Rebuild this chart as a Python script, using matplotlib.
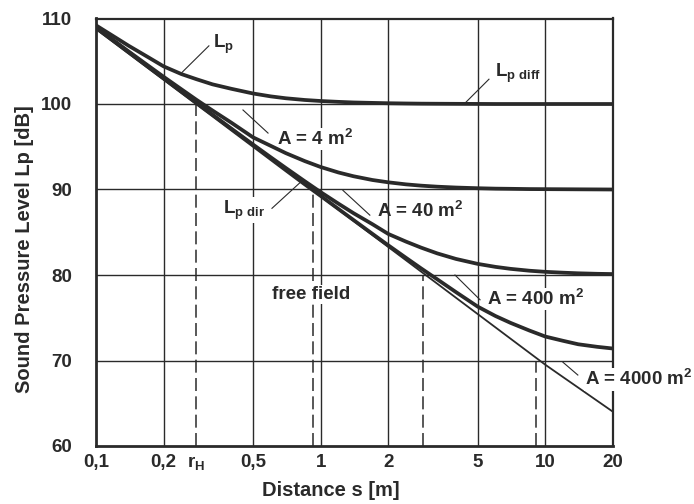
import matplotlib
matplotlib.use("Agg")
import matplotlib.pyplot as plt

# ---- data ----
distance = [0.1, 0.12, 0.14, 0.17, 0.2, 0.24, 0.28, 0.33, 0.4, 0.5, 0.6, 0.7, 0.85,
            1, 1.2, 1.4, 1.7, 2, 2.4, 2.8, 3.3, 4, 5, 6, 7, 8.5, 10, 12, 14, 17, 20]
lp_dir   = [108.9, 107.34, 106.02, 104.36, 102.97, 101.41, 100.09, 98.69, 97.04, 95.13, 93.57,
            92.25, 90.59, 89.2, 87.64, 86.32, 84.66, 83.27, 81.71, 80.39, 78.99, 77.34, 75.43,
            73.87, 72.55, 70.89, 69.5, 68.05, 66.83, 65.29, 64.0]
lp_a4    = [109.2, 107.9, 106.8, 105.5, 104.4, 103.5, 102.9, 102.3, 101.78, 101.23, 100.89,
            100.67, 100.47, 100.35, 100.25, 100.18, 100.13, 100.09, 100.06, 100.04, 100.03,
            100.02, 100.01, 100.0, 100.0, 100.0, 100.0, 100.0, 100.0, 100.0, 100.0]
lp_a40   = [109.0, 107.42, 106.13, 104.52, 103.18, 101.72, 100.49, 99.24, 97.82, 96.1, 95.1,
            94.25, 93.32, 92.63, 91.99, 91.55, 91.11, 90.84, 90.6, 90.45, 90.33, 90.23, 90.15,
            90.1, 90.08, 90.05, 90.04, 90.03, 90.02, 90.01, 90.0]
lp_a400  = [108.9, 107.35, 106.03, 104.37, 102.99, 101.44, 100.13, 98.75, 97.13, 95.26, 93.76,
            92.51, 90.96, 89.69, 88.34, 87.23, 85.94, 84.8, 83.9, 83.2, 82.53, 81.88, 81.3,
            80.95, 80.72, 80.5, 80.37, 80.27, 80.2, 80.14, 80.11]
lp_a4000 = [108.9, 107.34, 106.02, 104.36, 102.97, 101.41, 100.09, 98.69, 97.04, 95.13, 93.57,
            92.25, 90.6, 89.25, 87.72, 86.43, 84.81, 83.47, 82.0, 80.77, 79.5, 78.0, 76.3,
            75.2, 74.4, 73.5, 72.8, 72.3, 71.9, 71.6, 71.4]

# critical distances (dashed) and the levels where they end
crit_r      = [0.28, 0.92, 2.85, 9.1]
crit_levels = [100, 90, 80, 70]

x_ticks = [0.1, 0.2, 0.28, 0.5, 1, 2, 5, 10, 20]
x_tick_labels = ["0,1", "0,2", r"$\mathbf{r}_\mathbf{H}$", "0,5", "1", "2", "5", "10", "20"]
y_ticks = [60, 70, 80, 90, 100, 110]
x_grid = [0.2, 0.5, 1, 2, 5, 10]
y_grid = [70, 80, 90, 100]

# ---- style ----
INK = "#2a2a2a"
plt.rcParams["font.family"] = ["Liberation Sans", "DejaVu Sans"]
plt.rcParams["font.weight"] = "bold"
plt.rcParams["mathtext.fontset"] = "custom"
plt.rcParams["mathtext.rm"] = "Liberation Sans:bold"
plt.rcParams["mathtext.bf"] = "Liberation Sans:bold"
plt.rcParams["mathtext.it"] = "Liberation Sans:bold"

fig = plt.figure(figsize=(6.94, 5.04), dpi=100)
ax = fig.add_axes([96/694, 1-446/504, (613-96)/694, (446-18.5)/504])
ax.set_xscale("log")
ax.set_xlim(0.1, 20)
ax.set_ylim(60, 110)

for g in x_grid:
    ax.axvline(g, color=INK, lw=1.0, zorder=1)
for g in y_grid:
    ax.axhline(g, color=INK, lw=1.0, zorder=1)

ax.vlines(crit_r, 60, crit_levels, colors=INK, lw=1.1,
          linestyles=(0, (8.5, 3.5)), zorder=2)

ax.plot(distance, lp_dir, color=INK, lw=1.3, zorder=4)
for series in (lp_a4, lp_a40, lp_a400, lp_a4000):
    ax.plot(distance, series, color=INK, lw=2.7, zorder=4,
            solid_capstyle="butt", solid_joinstyle="round")

ax.set_xticks(x_ticks)
ax.set_xticklabels(x_tick_labels)
ax.xaxis.set_minor_locator(matplotlib.ticker.NullLocator())
ax.set_yticks(y_ticks)
ax.tick_params(axis="both", length=0, labelsize=13.5, colors=INK)
ax.tick_params(axis="x", pad=6)
ax.tick_params(axis="y", pad=17)

for side in ("left", "bottom"):
    ax.spines[side].set_linewidth(2.0)
for side in ("right", "top"):
    ax.spines[side].set_linewidth(1.6)
for s in ax.spines.values():
    s.set_color(INK)

ax.set_xlabel("Distance s [m]", fontsize=14.5, color=INK, fontweight="bold")
ax.xaxis.set_label_coords(0.4545, -0.083)
ax.xaxis.label.set_va("top")
ax.set_ylabel("Sound Pressure Level Lp [dB]", fontsize=14.5, color=INK, fontweight="bold")
ax.yaxis.set_label_coords(-0.12, 0.46)

box = dict(facecolor="white", edgecolor="none", pad=1.0)
tk = dict(fontsize=13.5, color=INK, fontweight="bold", va="center", ha="left", zorder=3)

def leader(p1, p2):
    ax.plot([p1[0], p2[0]], [p1[1], p2[1]], color=INK, lw=0.8, zorder=5)

ax.text(0.332, 107.0, r"$\mathbf{L}_\mathbf{p}$", **tk)
leader((0.2415, 103.7), (0.318, 106.8))

ax.text(5.97, 103.6, r"$\mathbf{L}_{\mathbf{p\ diff}}$", **tk)
leader((4.35, 100.0), (5.61, 102.9))

ax.text(0.64, 95.9, r"A = 4 m$^\mathbf{2}$", bbox=box, **tk)
leader((0.451, 99.3), (0.583, 96.6))

ax.text(0.367, 87.6, r"$\mathbf{L}_{\mathbf{p\ dir}}$", bbox=box, **tk)
leader((0.607, 87.8), (0.809, 90.8))

ax.text(1.78, 87.5, r"A = 40 m$^\mathbf{2}$", **tk)
leader((1.256, 89.9), (1.655, 87.0))

ax.text(0.607, 77.7, "free field", bbox=box, **tk)

ax.text(5.5, 77.2, r"A = 400 m$^\mathbf{2}$", bbox=box, **tk)
leader((3.96, 80.0), (5.12, 77.1))

ax.text(15.0, 67.8, r"A = 4000 m$^\mathbf{2}$", bbox=box, clip_on=False,
        **dict(tk, zorder=6))
leader((11.97, 69.8), (13.95, 68.3))

fig.savefig("out.png", dpi=100, facecolor="white")
